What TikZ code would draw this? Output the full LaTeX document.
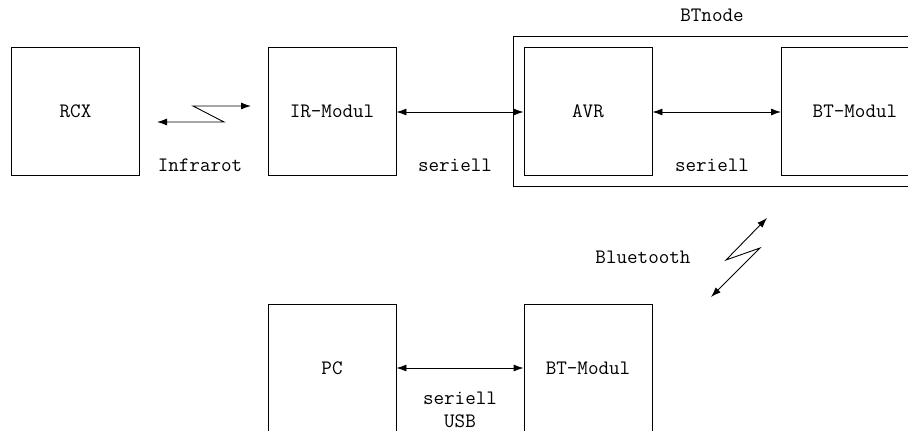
\documentclass[tikz,border=0pt]{standalone}
\usetikzlibrary{arrows.meta}
\begin{document}
\begin{tikzpicture}[x=1pt,y=-1pt,
  box/.style={draw,line width=0.9pt,minimum width=128pt,minimum height=128pt,inner sep=0pt,font=\ttfamily\fontsize{20.5}{24}\selectfont},
  lbl/.style={inner sep=0pt,font=\ttfamily\fontsize{20.5}{24}\selectfont},
  conn/.style={line width=0.9pt,{Latex[length=10pt,width=7pt]}-{Latex[length=10pt,width=7pt]}}]
\clip (0,0) rectangle (908,431);
\draw[line width=0.9pt] (513,36) rectangle (930,186);
\node[box] (rcx) at (75.5,111) {RCX};
\node[box] (ir) at (332,111) {IR-Modul};
\node[box] (avr) at (588,111) {AVR};
\node[box,anchor=west] (bt1) at (781,111) {\hspace*{19pt}BT-Modul\hfill};
\node[box] (pc) at (332,368.5) {PC};
\node[box] (bt2) at (588,368.5) {BT-Modul};
\node[lbl] (btnode) at (712,15) {BTnode};
\node[lbl] (linf) at (200,165) {Infrarot};
\node[lbl] (ls1) at (455,165) {seriell};
\node[lbl] (ls2) at (712,165) {seriell};
\node[lbl] (lbt) at (643,257) {Bluetooth};
\node[lbl] (ls3) at (460,398) {seriell};
\node[lbl] (lusb) at (460,421) {USB};
\coordinate (i1) at (157,122);
\coordinate (i2) at (224,122);
\coordinate (i3) at (193,106);
\coordinate (i4) at (251,106);
\coordinate (b1) at (767,218);
\coordinate (b2) at (726,260);
\coordinate (b3) at (760,248);
\coordinate (b4) at (711,297);
\draw[conn] (i1) -- (i2) -- (i3) -- (i4);
\draw[conn] (b1) -- (b2) -- (b3) -- (b4);
\draw[conn] (ir.east |- 0,112) -- (avr.west |- 0,112);
\draw[conn] (avr.east |- 0,112) -- (bt1.west |- 0,112);
\draw[conn] (pc.east |- 0,368) -- (bt2.west |- 0,368);
\end{tikzpicture}
\end{document}
